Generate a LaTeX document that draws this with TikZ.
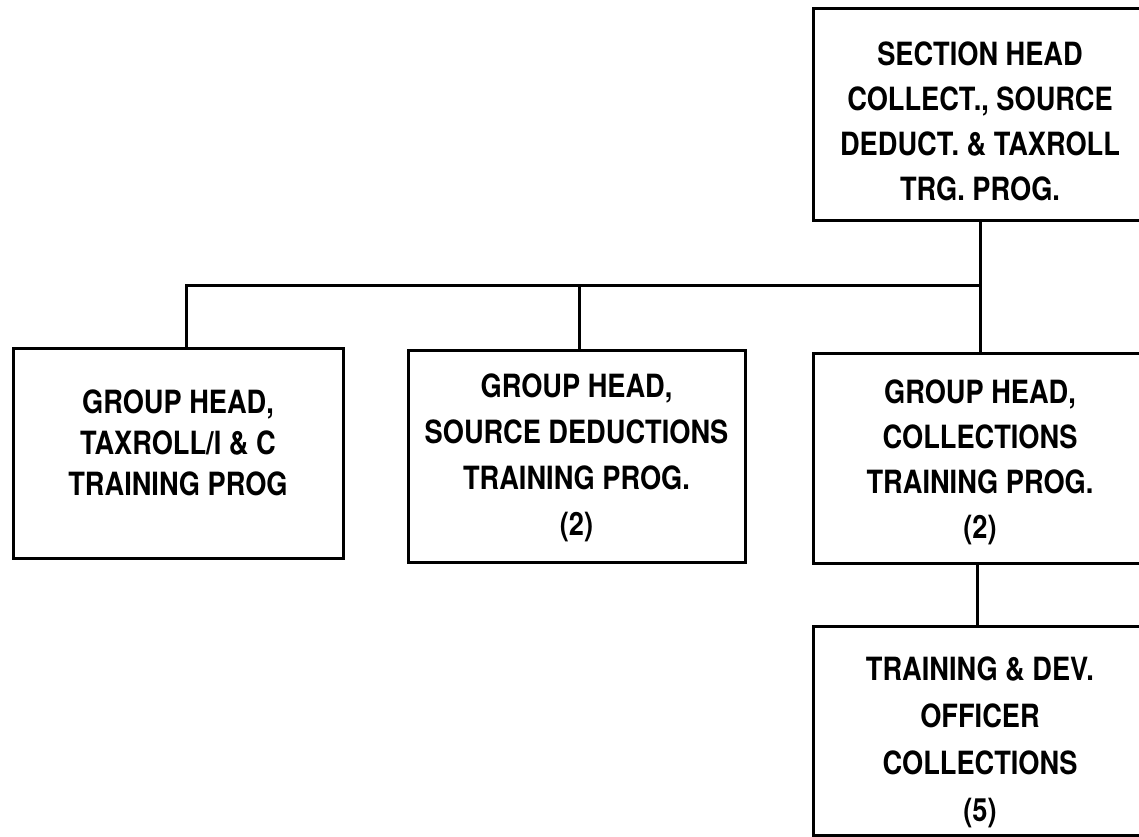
\documentclass[tikz,border=0pt]{standalone}
\usepackage{fontspec}
\setmainfont{TeX Gyre Heros}[FakeStretch=0.85]
\begin{document}
\begin{tikzpicture}[x=1pt,y=-1pt,
  orgbox/.style={draw, line width=3pt, rectangle, align=center, inner sep=0pt,
    text depth=0pt},
  lines/.style={font=\fontsize{32}{#1}\selectfont\bfseries},
  link/.style={line width=3pt}]
  \useasboundingbox (0,0) rectangle (1139,836);
  \clip (0,0) rectangle (1139,836);

  % boxes
  \node[orgbox, lines=45, text height=172pt, minimum width=334pt, minimum height=212pt]
    (top) at (980,114)
    {SECTION HEAD\\COLLECT., SOURCE\\DEDUCT. \& TAXROLL\\TRG. PROG.};
  \node[orgbox, lines=41, text height=84pt, minimum width=330pt, minimum height=210pt]
    (left) at (178,453)
    {GROUP HEAD,\\TAXROLL/I \& C\\TRAINING PROG};
  \node[orgbox, lines=46, text height=158pt, minimum width=337pt, minimum height=212pt]
    (mid) at (576.5,456)
    {GROUP HEAD,\\SOURCE DEDUCTIONS\\TRAINING PROG.\\(2)};
  \node[orgbox, lines=45, text height=160pt, minimum width=333pt, minimum height=210pt]
    (right) at (980,458)
    {GROUP HEAD,\\COLLECTIONS\\TRAINING PROG.\\(2)};
  \node[orgbox, lines=47, text height=181pt, minimum width=333pt, minimum height=209pt]
    (bottom) at (980,730.5)
    {TRAINING \& DEV.\\OFFICER\\COLLECTIONS\\(5)};

  % connectors
  \coordinate (bus) at (0,285);
  \draw[link] (top.south) -- (right.north);
  \draw[link] ([xshift=8pt]left.north) |- (bus -| top.south);
  \draw[link] ([xshift=2.5pt]mid.north) -- ([xshift=2.5pt]mid.north |- bus);
  \draw[link] ([xshift=-3pt]right.south) -- ([xshift=-3pt]bottom.north);
\end{tikzpicture}
\end{document}
